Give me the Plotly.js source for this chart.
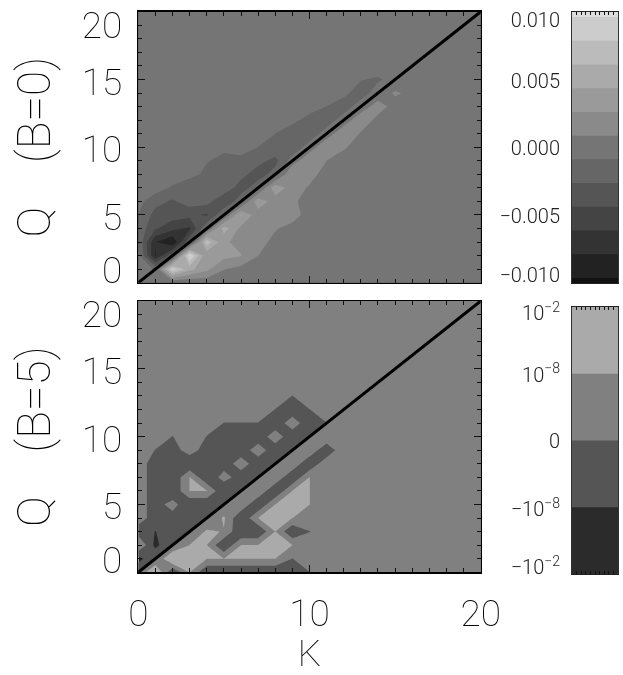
<!DOCTYPE html>
<html><head><meta charset="utf-8">
<script src="https://cdn.plot.ly/plotly-3.0.1.min.js"></script>
<style>html,body{margin:0;padding:0;background:#fff}#c{filter:grayscale(1)}</style></head>
<body><div id="c" style="width:623px;height:675px"></div>
<script>
// Axis grids
const K = Array.from({length:21},(_,i)=>i), Q = K.slice();
const diagonal = [0,20];
// Top panel (B=0): values x 1e-3, rows Q=0..20, columns K=0.. (omitted trailing cells = 0)
const zTop = [
[0,0,-.8,-.8,-.3,0],
[-.1,-1,9,5,3.1,.95,.3,0],
[-.3,-8.1,-3,10,2.9,3.2,2.75,.9,0],
[-.9,-7.9,-9.8,-3,7.5,3,2,1.4,.5,0],
[-1.4,-4.2,-5.6,-6.5,-1,5.3,2.2,1.6,1,.4,0],
[-.9,-3.3,-3.6,-3.9,-4.7,-1,4.6,1.6,1.3,1.5,.3,0],
[-.3,-2.1,-2.9,-1.8,-1.9,-4.3,-1.6,4,1.6,1.2,.2,0],
[0,0,-1.1,-2.7,-1.5,-1.4,-3.5,-1.6,4,1.7,.7,0],
[0,0,-.1,-.1,-1.4,-1.5,-2.1,-3.5,-1.9,2.75,1.5,.2,0],
[0,0,0,0,-.75,-1.4,-1.3,-2.1,-3.2,0,2.2,.9,.1,0],
[0,0,0,0,0,-.5,-.25,-.9,-1.4,-2.2,0,2.2,1.1,.1,0],
[0,0,0,0,0,0,0,-.3,-.88,-1.4,-2,0,2,.75,0],
[0,0,0,0,0,0,0,0,-.2,-.65,-1.2,-1.9,0,1.9,.4,0],
[0,0,0,0,0,0,0,0,0,0,-.5,-.9,-1.8,0,1.6,.3,0],
[0,0,0,0,0,0,0,0,0,0,0,-.2,-.45,-1.7,-.1,1.1,.5,0],
[0,0,0,0,0,0,0,0,0,0,0,0,0,-.8,-1.1,-.3,0],
[0,0,0,0,0,0,0,0,0,0,0,0,0,0,-.05,-.1,0],
[],[],[],[]
];
// Bottom panel (B=5): signed-log band coordinate, rows Q=0..20 (omitted trailing cells = 0.5)
const zBot = [
[-.02,2.2,-.95,1.02,-.95,-.95,-.95,-.95,-.95,-.5,-.02],
[-1.4,-.02,2.2,1.5,1.01,1.01,1.01,1.01,1.01,-.02],
[1.05,-1.3,-.02,1.01,1.01,-.99,1.01,1.01,1.5,1.01],
[-.5,-1.02,-.5,-.02,1.15,.95,-.99,-.95,1.01,-.95,-.02],
[.5,-.5,-.5,-.5,-.02,1.15,-.95,1.01,1.5,1.01],
[.5,-.5,.45,-.9,-.9,-.02,.85,-.95,1.01,1.5,1.01],
[.5,-.5,-.9,1.02,1.02,-.9,-.02,.85,-.95,1.01,1.01],
[.5,-.5,-.9,1.02,-.9,.45,-.5,-.02,.85,-.95,1.01],
[.5,-.5,-.5,-.9,-.5,-.5,.45,-.5,-.02,.85,-.95,.85],
[.5,-.03,-.5,.5,-.5,-.5,-.5,.45,-.5,-.02,.85,-.95,.95],
[.5,.5,-.03,.5,-.03,-.5,-.5,-.5,.45,-.5,-.02,.95],
[.5,.5,.5,.5,.5,-.02,-.02,-.02,-.5,.45,-.5,-.02],
[.5,.5,.5,.5,.5,.5,.5,.5,-.02,-.5,-.02],
[.5,.5,.5,.5,.5,.5,.5,.5,.5,-.02],
[],[],[],[],[],[],[]
];
const graysTop = ['#111111','#222222','#333333','#444444','#555555','#666666','#757575','#8a8a8a','#9a9a9a','#aaaaaa','#bbbbbb','#cccccc','#dddddd'];
const graysBot = ['#2b2b2b','#555555','#808080','#aaaaaa'];
const cbTopRange = [-10.1,10.1];
const cbBotRange = [-2,2];
const yLabelVals = [.96,4.86,9.88,14.84,19.0];
const yLabelValsB = [.88,4.87,9.8,14.8,19.05];
const yLabelText = ['0','5','10','15','20'];
const cbTopVals = [-9.53,-5.1,-.07,4.95,9.53];
const cbTopText = ['\u22120.010','\u22120.005','0.000','0.005','0.010'];
const cbBotVals = [-1.9,-1.03,0,.985,1.91];
const cbBotText = ['\u221210<sup>\u22122</sup>','\u221210<sup>\u22128</sup>','0','10<sup>\u22128</sup>','10<sup>\u22122</sup>'];

const pad = (rows,v)=>rows.map(r=>K.map(i=> i<r.length ? r[i] : v));
const scale = g => g.map((c,i)=>[i/(g.length-1),c]);
const W=623,H=675;
const dx=(a,b)=>[a/W,b/W], dy=(top,bot)=>[1-bot/H,1-top/H];
const fam='Roboto';
const big={family:fam,size:37,weight:100,color:'#000'};
const ttl={family:fam,size:46,weight:100,color:'#000'};
const small={family:fam,size:20,weight:300,color:'#222'};
const levelsTop={coloring:'fill',start:-9.735,end:9.735,size:1.77,showlines:false};
const levelsBot={coloring:'fill',start:-1,end:1,size:1,showlines:false};
const panel=(z,cs,lv,xa,ya)=>({type:'contour',x:K,y:Q,z,colorscale:scale(cs),autocontour:false,contours:lv,line:{width:0,smoothing:0},showscale:false,xaxis:xa,yaxis:ya,hoverinfo:'skip'});
const bar=(rng,cs,lv,xa,ya)=>({type:'contour',x:[0,1],y:rng,z:[[rng[0],rng[0]],[rng[1],rng[1]]],colorscale:scale(cs),autocontour:false,contours:lv,line:{width:0,smoothing:0},showscale:false,xaxis:xa,yaxis:ya,hoverinfo:'skip'});
const diag=(xa,ya)=>({type:'scatter',mode:'lines',x:diagonal,y:diagonal,line:{color:'#000',width:3},xaxis:xa,yaxis:ya,hoverinfo:'skip',showlegend:false});
const data=[
 panel(pad(zTop,0),graysTop,levelsTop,'x','y'),
 panel(pad(zBot,.5),graysBot,levelsBot,'x2','y2'),
 bar(cbTopRange,graysTop,levelsTop,'x3','y3'),
 bar(cbBotRange,graysBot,levelsBot,'x4','y4'),
 diag('x','y5'), diag('x2','y6')
];
const frameX=(dom,anchor,labels,extra)=>Object.assign({domain:dom,anchor,range:[0,20],showline:true,linecolor:'#000',linewidth:1.5,mirror:'ticks',ticks:'inside',ticklen:7,tickwidth:1,tickcolor:'#111',tickmode:'array',tickvals:[0,10,20],ticktext:['0','10','20'],showticklabels:labels,tickfont:big,ticklabelstandoff:8,showgrid:false,zeroline:false,minor:{dtick:1,ticks:'inside',ticklen:4,tickwidth:1,tickcolor:'#111',showgrid:false}},extra||{});
const frameY=(dom,anchor)=>({domain:dom,anchor,range:[0,20],showline:true,linecolor:'#000',linewidth:1.5,mirror:'ticks',ticks:'inside',ticklen:7,tickwidth:1,tickcolor:'#111',dtick:5,showticklabels:false,showgrid:false,zeroline:false,minor:{dtick:1,ticks:'inside',ticklen:4,tickwidth:1,tickcolor:'#111',showgrid:false}});
const labelY=(dom,over,anchor,vals,title)=>({domain:dom,overlaying:over,anchor,side:'left',range:[0,20],showline:false,ticks:'',showgrid:false,zeroline:false,tickmode:'array',tickvals:vals,ticktext:yLabelText,tickfont:big,ticklabelstandoff:15,title:{text:title,font:ttl,standoff:16}});
const barX=(dom,anchor)=>({domain:dom,anchor,range:[0,1],showline:true,linecolor:'#222',linewidth:1,mirror:'ticks',ticks:'inside',ticklen:3,tickcolor:'#111',dtick:.1,showticklabels:false,showgrid:false,zeroline:false});
const barY=(dom,anchor,rng,vals,text)=>({domain:dom,anchor,range:rng,showline:true,linecolor:'#333',linewidth:1,mirror:true,ticks:'',tickmode:'array',tickvals:vals,ticktext:text,tickfont:small,ticklabelstandoff:7,showgrid:false,zeroline:false});
const pT=dy(11.7,282.7), pB=dy(301,572.3), cT=dy(12,283), cB=dy(307,574);
const px=dx(138.3,480.7), bx=dx(572,618);
const layout={width:W,height:H,margin:{l:0,r:0,t:0,b:0,pad:0},paper_bgcolor:'#fff',plot_bgcolor:'#fff',showlegend:false,font:{family:fam},
 xaxis:frameX(px,'y',false), yaxis:frameY(pT,'x'),
 xaxis2:frameX(px,'y2',true,{title:{text:'K',font:big,standoff:28}}), yaxis2:frameY(pB,'x2'),
 xaxis3:barX(bx,'y3'), yaxis3:barY(cT,'x3',cbTopRange,cbTopVals,cbTopText),
 xaxis4:barX(bx,'y4'), yaxis4:barY(cB,'x4',cbBotRange,cbBotVals,cbBotText),
 yaxis5:labelY(pT,'y','x',yLabelVals,'Q\u00a0\u00a0\u00a0\u00a0(B=0)\u00a0\u00a0'),
 yaxis6:labelY(pB,'y2','x2',yLabelValsB,'Q\u00a0\u00a0\u00a0\u00a0(B=5)\u00a0')
};
Plotly.newPlot('c',data,layout,{displayModeBar:false,staticPlot:true});
</script></body></html>
